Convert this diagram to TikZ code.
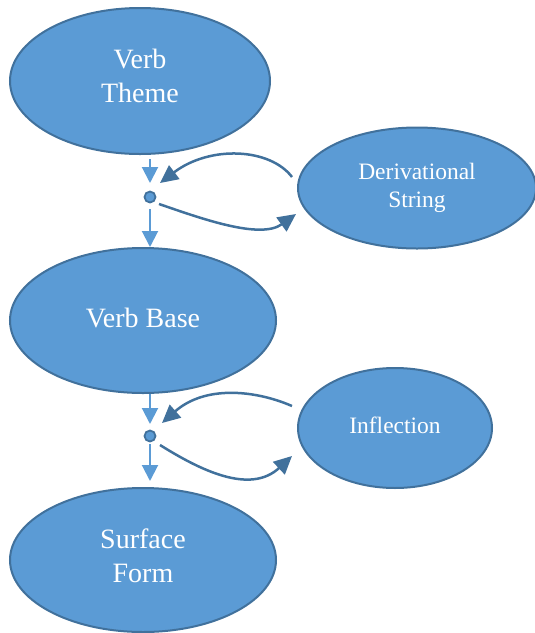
\documentclass[tikz,border=0pt]{standalone}
\usepackage{fontspec}
\setmainfont{Liberation Serif}
\newfontfamily\tnr{Liberation Serif}
\usetikzlibrary{shapes.geometric,arrows.meta}
\definecolor{bfill}{HTML}{5B9BD5}
\definecolor{bline}{HTML}{41719C}
\tikzset{
  oval/.style={ellipse, fill=bfill, draw=bline, line width=2pt, inner sep=0pt},
  bigtxt/.style={text=white, align=center, font=\tnr\fontsize{28}{34}\selectfont},
  smalltxt/.style={text=white, align=center, font=\tnr\fontsize{23.5}{27.5}\selectfont},
  joint/.style={circle, fill=bfill, draw=bline, line width=1.8pt, minimum size=11pt, inner sep=0pt},
  larrow/.style={draw=bfill, line width=2pt, -{Triangle[length=16pt,width=16pt]}},
  darrow/.style={draw=bline, line width=2.5pt, -{Triangle[length=18pt,width=17pt]}}
}
\begin{document}
\begin{tikzpicture}[x=1pt,y=-1pt]
\useasboundingbox (0,0) rectangle (535,633);
\node[oval, minimum width=260pt, minimum height=146pt,
      label={[bigtxt, yshift=5pt]center:Verb\\Theme}] (vt) at (140,81) {};
\node[oval, minimum width=266pt, minimum height=145pt,
      label={[bigtxt, yshift=3pt]center:Verb Base}] (vb) at (143,320.5) {};
\node[oval, minimum width=266pt, minimum height=144pt,
      label={[bigtxt, yshift=4pt]center:Surface\\Form}] (sf) at (143,560) {};
\node[oval, minimum width=238pt, minimum height=121pt,
      label={[smalltxt]center:Derivational\\String}] (ds) at (417,188) {};
\node[oval, minimum width=194pt, minimum height=120pt,
      label={[smalltxt, yshift=3pt]center:Inflection}] (inf) at (395,428) {};
\node[joint] (d1) at (150,197) {};
\node[joint] (d2) at (150,436) {};
% vertical light arrows
\draw[larrow, shorten <=4pt, shorten >=14pt] (vt.south -| d1) -- (d1.center);
\draw[larrow, shorten <=12pt] (d1.center) -- (d1 |- vb.north);
\draw[larrow, shorten >=12pt] (vb.south -| d2) -- (d2.center);
\draw[larrow, shorten <=8pt, shorten >=6pt] (d2.center) -- (d2 |- sf.north);
% curved dark arrows
\draw[darrow] ([xshift=-5pt,yshift=11pt]ds.west) .. controls (270,148) and (210,145) .. ([xshift=10pt,yshift=14pt]d1.center);
\draw[darrow] ([xshift=9pt,yshift=-7pt]d1.center) .. controls (200,218) and (260,240) .. ([xshift=-1pt,yshift=-26pt]ds.west);
\draw[darrow] ([xshift=-5pt,yshift=22pt]inf.west) .. controls (255,390) and (205,385) .. ([xshift=12pt,yshift=13pt]d2.center);
\draw[darrow] ([xshift=10pt,yshift=-9pt]d2.center) .. controls (200,470) and (250,495) .. ([xshift=-5pt,yshift=-28pt]inf.west);
\end{tikzpicture}
\end{document}
